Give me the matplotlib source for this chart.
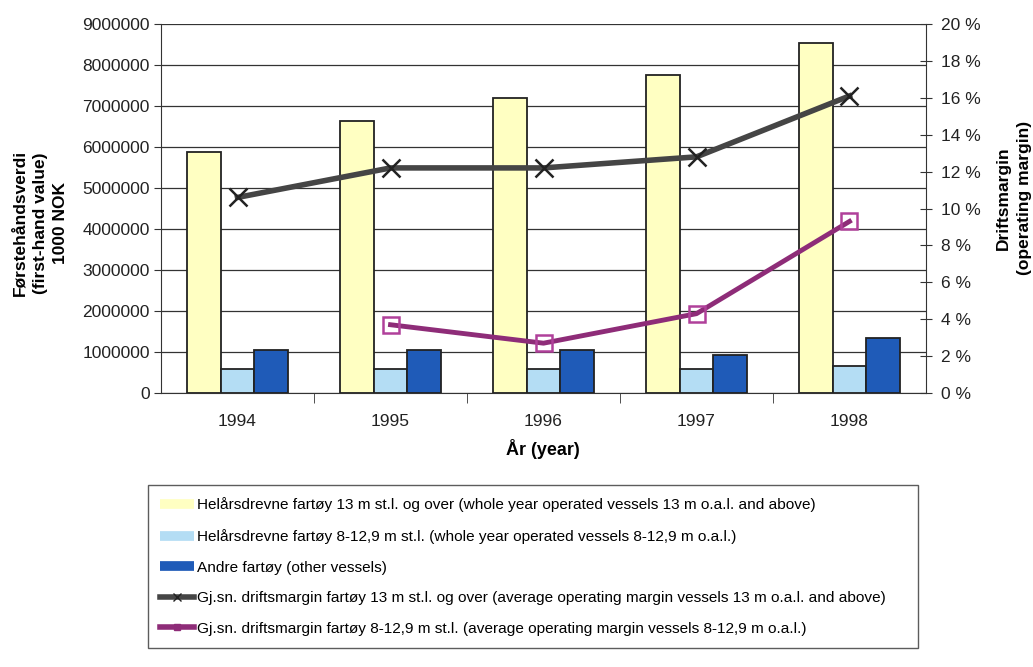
import matplotlib
matplotlib.use('Agg')
import matplotlib.pyplot as plt
from matplotlib.lines import Line2D
from matplotlib.ticker import FixedLocator, FuncFormatter
import numpy as np

plt.rcParams['font.family'] = ['Liberation Sans', 'DejaVu Sans']

years = ['1994', '1995', '1996', '1997', '1998']
big_vessels = [5870000, 6640000, 7190000, 7750000, 8530000]
small_vessels = [585000, 585000, 585000, 580000, 650000]
other_vessels = [1060000, 1060000, 1060000, 930000, 1340000]
margin_big = [10.6, 12.2, 12.2, 12.8, 16.1]
margin_small = [np.nan, 3.7, 2.7, 4.3, 9.3]

labels = [
    'Helårsdrevne fartøy 13 m st.l. og over (whole year operated vessels 13 m o.a.l. and above)',
    'Helårsdrevne fartøy 8-12,9 m st.l. (whole year operated vessels 8-12,9 m o.a.l.)',
    'Andre fartøy (other vessels)',
    'Gj.sn. driftsmargin fartøy 13 m st.l. og over (average operating margin vessels 13 m o.a.l. and above)',
    'Gj.sn. driftsmargin fartøy 8-12,9 m st.l. (average operating margin vessels 8-12,9 m o.a.l.)',
]

c_yellow = '#FFFFC2'
c_light = '#B4DDF4'
c_dark = '#1F5BB8'
c_gray = '#454545'
c_purple = '#8E2C78'

fig = plt.figure(figsize=(10.33, 6.67), dpi=100)
ax = fig.add_axes([0.1559, 0.4108, 0.7405, 0.5532])
x = np.arange(len(years))
w = 0.22

ax.bar(x - w, big_vessels, w, color=c_yellow, edgecolor='#222222', linewidth=1.3, zorder=2)
ax.bar(x, small_vessels, w, color=c_light, edgecolor='#222222', linewidth=1.3, zorder=2)
ax.bar(x + w, other_vessels, w, color=c_dark, edgecolor='#222222', linewidth=1.3, zorder=2)

ax.set_xlim(-0.5, len(years) - 0.5)
ax.set_ylim(0, 9000000)
ax.set_yticks(np.arange(0, 9000001, 1000000))
ax.yaxis.set_major_formatter(FuncFormatter(lambda v, p: '%d' % v))
ax.grid(axis='y', color='#333333', linewidth=0.9, zorder=0)
ax.set_axisbelow(True)
for s in ['top', 'right']:
    ax.spines[s].set_visible(False)
ax.spines['left'].set_color('#333333')
ax.spines['bottom'].set_color('#333333')

ax.set_xticks(x)
ax.set_xticklabels(years, fontsize=12.5, color='#222222')
ax.tick_params(axis='x', length=0, pad=15)
ax.xaxis.set_minor_locator(FixedLocator(np.arange(0.5, len(years) - 1, 1.0)))
ax.tick_params(axis='x', which='minor', length=7, direction='out', color='#333333')
ax.tick_params(axis='y', length=5, direction='out', color='#333333', pad=3,
               labelsize=12.5, labelcolor='#222222')

fig.text(543 / 1033, 1 - 449 / 667, 'År (year)', fontsize=13, fontweight='bold',
         ha='center', va='center')
fig.text(40 / 1033, 1 - 223 / 667, 'Førstehåndsverdi\n(first-hand value)\n1000 NOK',
         fontsize=12.5, fontweight='bold', rotation=90, ha='center', va='center',
         linespacing=1.45)

ax2 = ax.twinx()
ax2.set_ylim(0, 20)
ax2.set_yticks(np.arange(0, 21, 2))
ax2.yaxis.set_major_formatter(FuncFormatter(lambda v, p: '%d %%' % v))
for s in ['top', 'left', 'bottom']:
    ax2.spines[s].set_visible(False)
ax2.spines['right'].set_color('#333333')
ax2.tick_params(axis='y', length=9, direction='inout', color='#333333', pad=6,
                labelsize=12.5, labelcolor='#222222')
fig.text(1014 / 1033, 1 - 198 / 667, 'Driftsmargin\n(operating margin)',
         fontsize=12.5, fontweight='bold', rotation=90, ha='center', va='center',
         linespacing=1.5)

ax2.plot(x, margin_big, color=c_gray, linewidth=4, marker='x', markersize=13,
         markeredgewidth=1.8, markeredgecolor='#222222', zorder=3)
ax2.plot(x, margin_small, color=c_purple, linewidth=3.5, marker='s', markersize=11,
         markerfacecolor='none', markeredgecolor='#B0409A', markeredgewidth=1.8, zorder=3)

handles = [
    Line2D([], [], color=c_yellow, linewidth=7, solid_capstyle='butt'),
    Line2D([], [], color=c_light, linewidth=7, solid_capstyle='butt'),
    Line2D([], [], color=c_dark, linewidth=7, solid_capstyle='butt'),
    Line2D([], [], color=c_gray, linewidth=4, marker='x', markersize=6,
           markeredgecolor='#222222'),
    Line2D([], [], color=c_purple, linewidth=4, marker='s', markersize=5),
]
leg = fig.legend(handles, labels, loc='upper left',
                 bbox_to_anchor=(0.1433, 0.0, 0.7455, 0.2729), mode='expand',
                 prop={'size': 11.1},
                 frameon=True, fancybox=False, edgecolor='#333333',
                 handlelength=2.2, handletextpad=0.2, labelspacing=1.08,
                 borderpad=0.8, borderaxespad=0)
leg.get_frame().set_linewidth(1.0)

fig.savefig('out.png', dpi=100)
